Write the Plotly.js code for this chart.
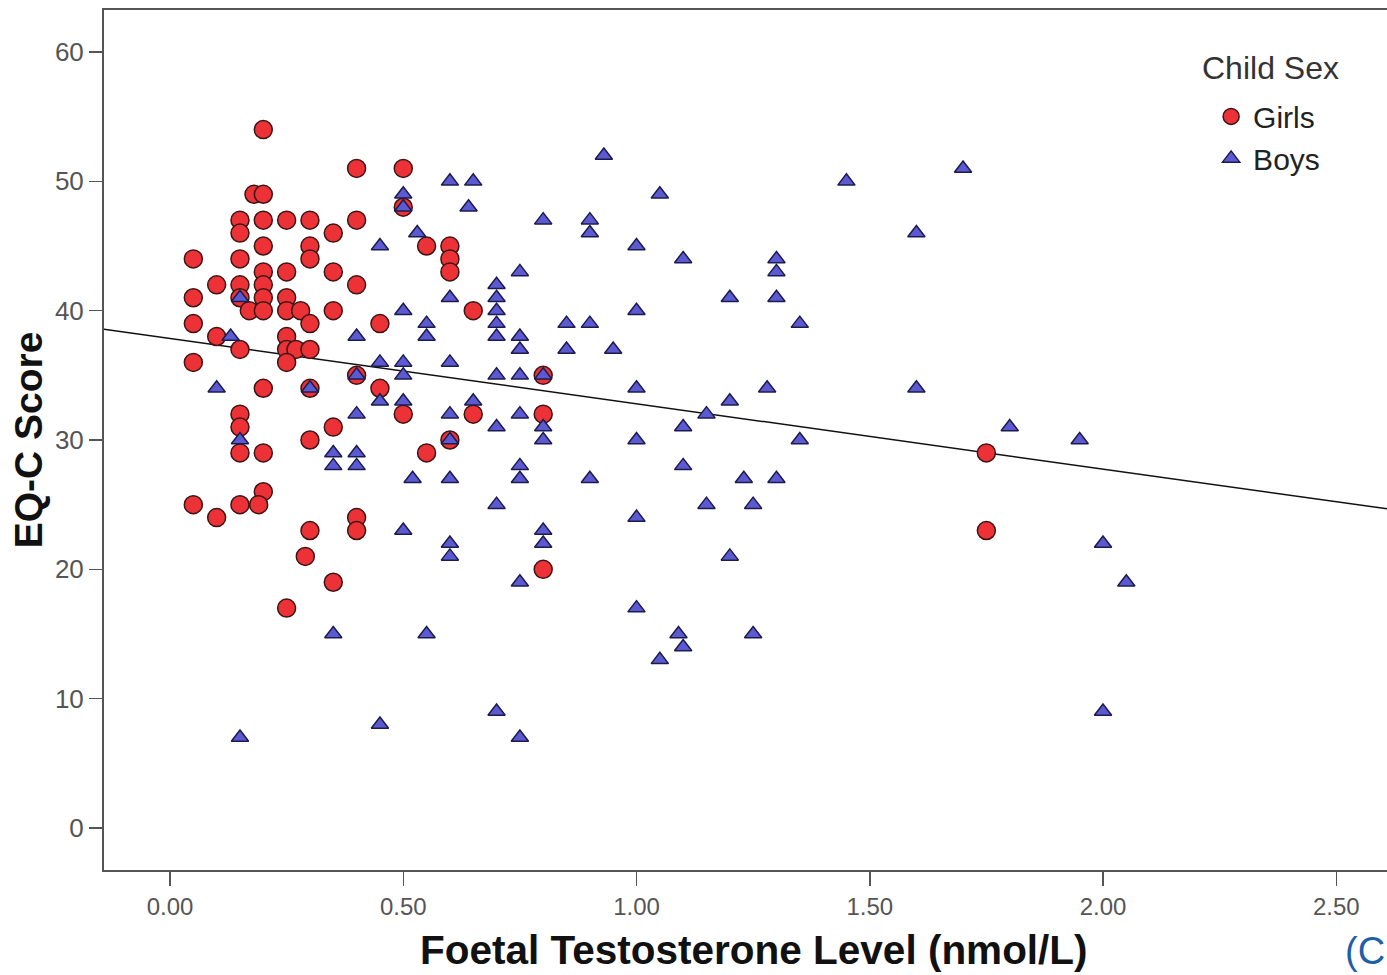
<!DOCTYPE html>
<html>
<head>
<meta charset="utf-8">
<script src="https://cdn.plot.ly/plotly-3.0.1.min.js"></script>
<style>
  html, body { margin: 0; padding: 0; background: #ffffff; }
  #chart { width: 1387px; height: 975px; }
</style>
</head>
<body>
<div id="chart"></div>
<script>
// Foetal testosterone (nmol/L) and EQ-C score, by child sex
const girlsFT = [
  0.20, 0.18, 0.20, 0.15, 0.15, 0.20, 0.25, 0.30, 0.20, 0.30,
  0.30, 0.05, 0.15, 0.20, 0.25, 0.20, 0.15, 0.10, 0.05, 0.15,
  0.20, 0.25, 0.17, 0.20, 0.25, 0.28, 0.35, 0.65, 0.05, 0.30,
  0.10, 0.25, 0.15, 0.25, 0.27, 0.30, 0.25, 0.05, 0.20, 0.30,
  0.15, 0.15, 0.15, 0.20, 0.20, 0.05, 0.15, 0.19, 0.10, 0.30,
  0.35, 0.30, 0.25, 0.29, 0.35, 0.40, 0.50, 0.50, 0.40, 0.35,
  0.55, 0.60, 0.60, 0.60, 0.35, 0.40, 0.45, 0.40, 0.45, 0.50,
  0.65, 0.60, 0.55, 0.40, 0.40, 0.80, 0.80, 0.80, 1.75, 1.75
];
const girlsEQ = [
  54, 49, 49, 47, 46, 47, 47, 47, 45, 45,
  44, 44, 44, 43, 43, 42, 42, 42, 41, 41,
  41, 41, 40, 40, 40, 40, 40, 40, 39, 39,
  38, 38, 37, 37, 37, 37, 36, 36, 34, 34,
  32, 31, 29, 29, 26, 25, 25, 25, 24, 23,
  31, 30, 17, 21, 19, 51, 51, 48, 47, 46,
  45, 45, 44, 43, 43, 42, 39, 35, 34, 32,
  32, 30, 29, 24, 23, 35, 32, 20, 29, 23
];

const boysFT = [
  0.15, 0.13, 0.10, 0.30, 0.15, 0.15, 0.60, 0.65, 0.50, 0.50,
  0.64, 0.53, 0.45, 0.70, 0.70, 0.70, 0.70, 0.70, 0.60, 0.50,
  0.40, 0.55, 0.55, 0.45, 0.50, 0.50, 0.60, 0.40, 0.45, 0.50,
  0.40, 0.60, 0.65, 0.70, 0.60, 0.35, 0.35, 0.40, 0.40, 0.52,
  0.60, 0.70, 0.50, 0.60, 0.60, 0.80, 0.90, 0.90, 0.75, 0.85,
  0.90, 0.75, 0.75, 0.85, 0.95, 0.70, 0.75, 0.80, 0.75, 0.80,
  0.80, 0.75, 0.75, 0.90, 0.80, 0.80, 0.75, 0.35, 0.55, 0.45,
  0.70, 0.75, 0.93, 1.05, 1.00, 1.10, 1.30, 1.30, 1.20, 1.30,
  1.00, 1.35, 1.00, 1.28, 1.20, 1.15, 1.10, 1.00, 1.35, 1.10,
  1.23, 1.30, 1.15, 1.25, 1.00, 1.20, 1.00, 1.09, 1.10, 1.25,
  1.05, 1.45, 1.70, 1.60, 1.60, 1.80, 1.95, 2.00, 2.05, 2.00
];
const boysEQ = [
  41, 38, 34, 34, 30,  7, 50, 50, 49, 48,
  48, 46, 45, 42, 41, 40, 39, 38, 41, 40,
  38, 39, 38, 36, 36, 35, 36, 35, 33, 33,
  32, 32, 33, 31, 30, 29, 28, 29, 28, 27,
  27, 25, 23, 22, 21, 47, 47, 46, 43, 39,
  39, 38, 37, 37, 37, 35, 35, 35, 32, 31,
  30, 28, 27, 27, 23, 22, 19, 15, 15,  8,
   9,  7, 52, 49, 45, 44, 44, 43, 41, 41,
  40, 39, 34, 34, 33, 32, 31, 30, 30, 28,
  27, 27, 25, 25, 24, 21, 17, 15, 14, 15,
  13, 50, 51, 46, 34, 31, 30, 22, 19,  9
];

// Total-sample linear fit: EQ = fitIntercept + fitSlope * FT
const fitIntercept = 37.85;
const fitSlope = -5.05;

const xTicks = [0, 0.5, 1.0, 1.5, 2.0, 2.5];
const yTicks = [0, 10, 20, 30, 40, 50, 60];
const xRange = [-0.1415, 2.6088];
const yRange = [-3.25, 63.25];

const fitX = [xRange[0], xRange[1]];
const fitY = fitX.map(v => fitIntercept + fitSlope * v);

const FONT = '"Liberation Sans", Arial, sans-serif';
const AXIS_GREY = '#555555';

// pixel helpers for paper-positioned text (plot area: left 104, width 1283, bottom 870, height 860)
const px = x => (x - 104) / 1283;
const py = y => (870 - y) / 860;

const traces = [
  {
    type: 'scatter', mode: 'lines',
    x: fitX, y: fitY,
    line: { color: '#111111', width: 1.5 },
    showlegend: false, hoverinfo: 'skip'
  },
  {
    type: 'scatter', mode: 'markers', name: 'Girls',
    x: girlsFT, y: girlsEQ,
    marker: { symbol: 'circle', size: 18, color: '#ec3237',
              line: { color: '#3d1515', width: 1.5 } }
  },
  {
    type: 'scatter', mode: 'markers', name: 'Boys',
    x: boysFT, y: boysEQ,
    marker: { symbol: 'triangle-up', size: 15, color: '#5c5ad2',
              line: { color: '#1c1c4c', width: 1.5 } }
  }
];

const layout = {
  width: 1387, height: 975,
  margin: { l: 104, r: 0, t: 10, b: 105, pad: 0 },
  paper_bgcolor: '#ffffff', plot_bgcolor: '#ffffff',
  font: { family: FONT, color: AXIS_GREY },
  showlegend: true,
  xaxis: {
    range: xRange, tickvals: xTicks, tickformat: '.2f',
    showgrid: false, zeroline: false,
    showline: true, mirror: true, linecolor: AXIS_GREY, linewidth: 2,
    ticks: 'outside', ticklen: 14, tickwidth: 1.5, tickcolor: AXIS_GREY,
    tickfont: { family: FONT, size: 24, color: '#555555' }
  },
  yaxis: {
    range: yRange, tickvals: yTicks,
    showgrid: false, zeroline: false,
    showline: true, mirror: false, linecolor: AXIS_GREY, linewidth: 2,
    ticks: 'outside', ticklen: 13, tickwidth: 1.5, tickcolor: AXIS_GREY,
    tickfont: { family: FONT, size: 26, color: '#555555' },
    title: { text: 'EQ-C Score', standoff: 0,
             font: { family: FONT, size: 39, color: '#111111', weight: 'bold' } }
  },
  legend: {
    x: 0.852, xanchor: 'left', y: 0.9065, yanchor: 'top',
    bgcolor: 'rgba(0,0,0,0)', borderwidth: 0,
    font: { family: FONT, size: 30, color: '#222222' },
    indentation: 12, itemwidth: 34,
    tracegroupgap: 0
  },
  annotations: [
    {
      // x-axis title
      xref: 'paper', yref: 'paper', x: px(754), y: py(950),
      xanchor: 'center', yanchor: 'middle', showarrow: false,
      text: '<b>Foetal Testosterone Level (nmol/L)</b>',
      font: { family: FONT, size: 40.5, color: '#111111' }
    },
    {
      // legend heading
      xref: 'paper', yref: 'paper', x: px(1200), y: py(68),
      xanchor: 'left', yanchor: 'middle', showarrow: false,
      text: 'Child Sex', font: { family: FONT, size: 32, color: '#333333' }
    },
    {
      xref: 'paper', yref: 'paper', x: 1, y: py(974),
      xanchor: 'right', yanchor: 'bottom', showarrow: false,
      text: '(C', font: { family: FONT, size: 38, color: '#1f5fa8' }
    }
  ]
};

Plotly.newPlot('chart', traces, layout, { staticPlot: true, displayModeBar: false });
</script>
</body>
</html>
